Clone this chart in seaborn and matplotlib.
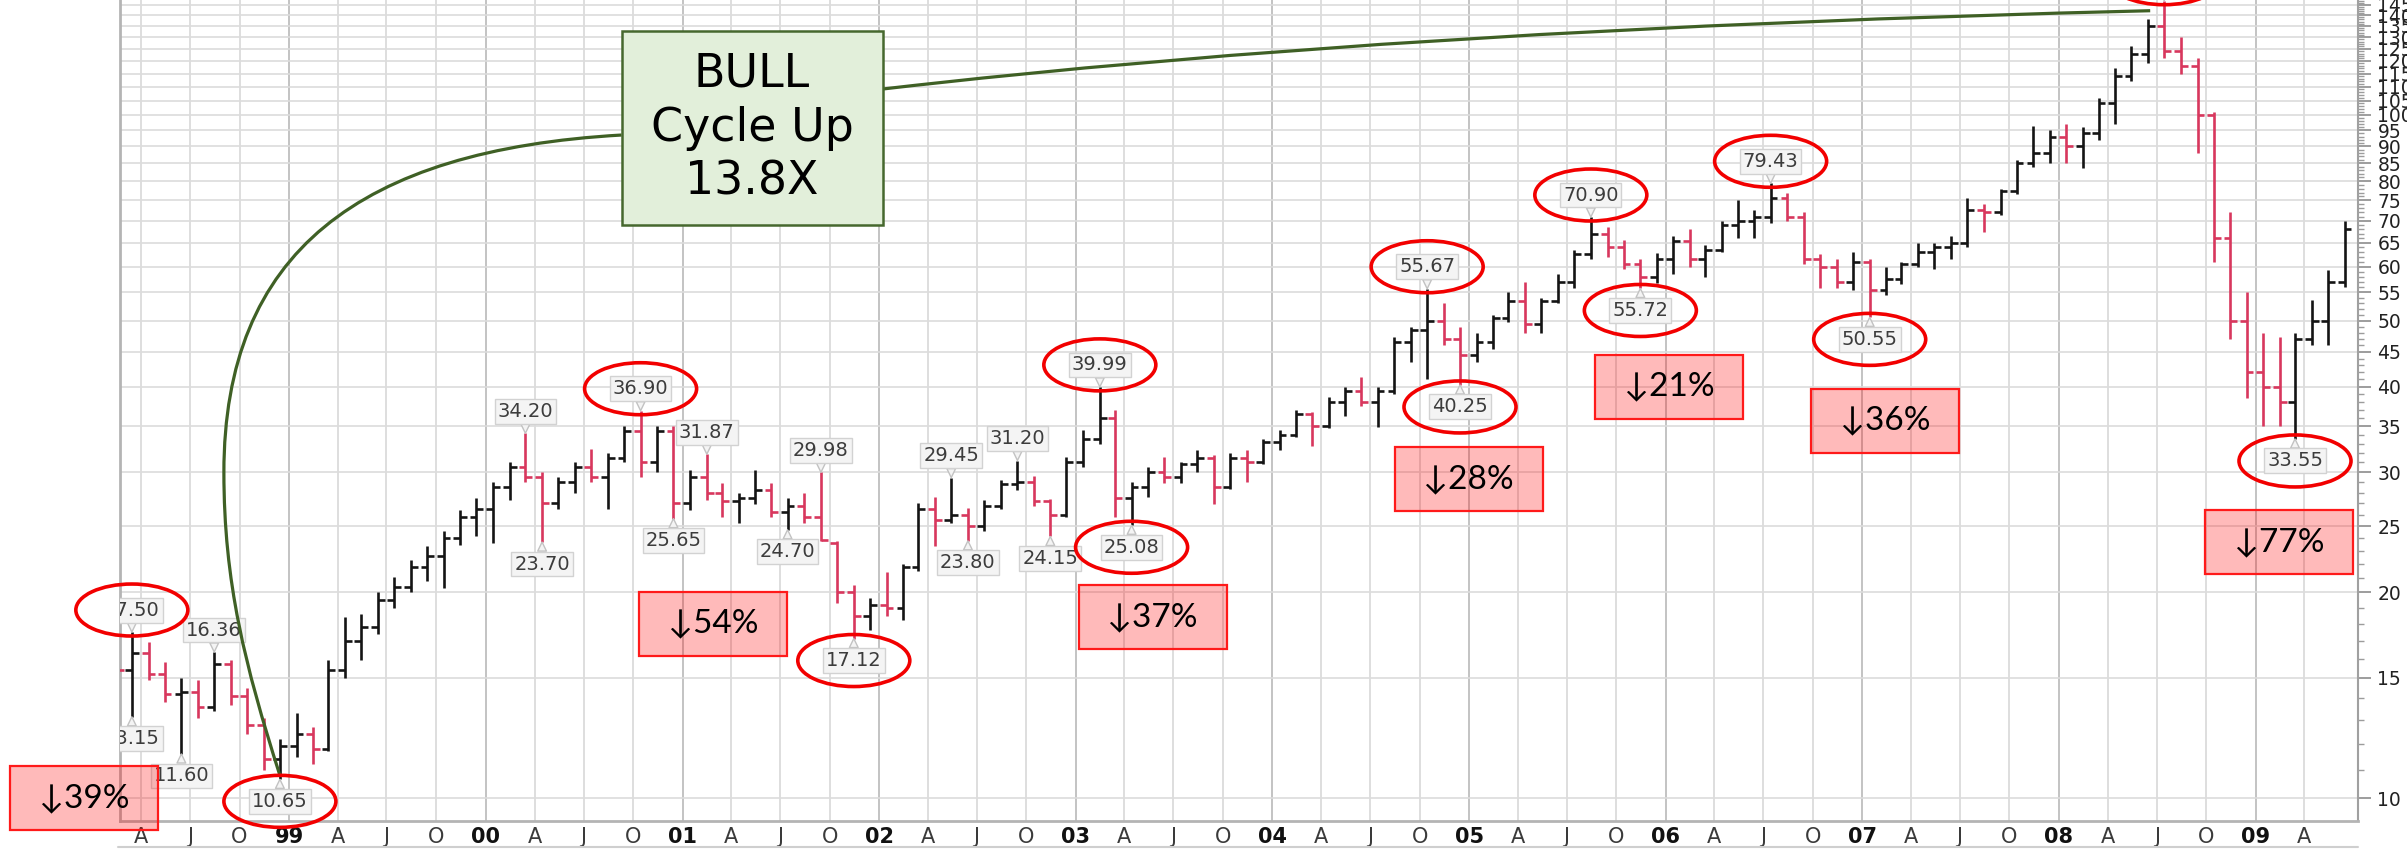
import numpy as np
import pandas as pd
import matplotlib
matplotlib.use("Agg")
import matplotlib.pyplot as plt
import matplotlib.dates as mdates
from matplotlib.patches import Ellipse, Rectangle, PathPatch
from matplotlib.path import Path
from matplotlib.lines import Line2D
from matplotlib.transforms import IdentityTransform
from matplotlib.ticker import FixedLocator, FixedFormatter, NullFormatter
import seaborn as sns

# monthly bars, Feb 1998 .. Jun 2009
first_month = "1998-02-01"

opens = [
    15.9, 15.4, 16.3, 15.2, 14.2, 14.3, 13.6, 15.7, 14.1, 12.8, 11.4,            # 1998
    11.9, 12.4, 11.8, 15.4, 17.0, 17.8, 19.5, 20.4, 21.8, 22.6, 24.0, 25.8,      # 1999
    26.5, 28.5, 30.5, 29.5, 27.0, 29.0, 30.5, 29.5, 31.5, 34.5, 31.0, 34.5,      # 2000
    27.0, 29.5, 28.0, 27.2, 27.5, 28.2, 26.2, 26.8, 25.8, 23.6, 20.0, 18.5,      # 2001
    19.2, 19.0, 21.8, 26.5, 25.5, 26.0, 25.0, 26.8, 28.8, 29.0, 27.2, 26.0,      # 2002
    31.0, 33.5, 36.0, 27.5, 28.5, 30.0, 29.5, 30.8, 31.5, 28.5, 31.5, 31.0,      # 2003
    33.2, 34.0, 36.5, 35.0, 38.0, 39.5, 38.0, 39.5, 46.5, 48.5, 50.0, 47.0,      # 2004
    44.5, 46.5, 50.5, 53.5, 49.5, 53.5, 57.0, 62.5, 67.0, 64.0, 60.5, 58.0,      # 2005
    61.5, 65.5, 61.5, 63.5, 69.0, 70.0, 71.0, 75.5, 71.0, 61.5, 60.0, 57.0,      # 2006
    61.0, 55.5, 57.5, 60.5, 63.0, 64.0, 65.0, 72.5, 72.0, 77.5, 85.0, 88.0,      # 2007
    93.0, 90.0, 94.0, 104.0, 114.0, 123.0, 135.0, 124.0, 118.0, 100.0, 66.0, 50.0,  # 2008
    42.0, 40.0, 38.0, 47.0, 50.0, 57.0,                                          # 2009
]
highs = [
    16.6, 17.50, 16.9, 15.8, 15.0, 14.9, 16.36, 15.9, 14.5, 13.1, 12.2,
    13.3, 12.7, 15.9, 18.4, 18.6, 20.0, 21.1, 22.3, 23.4, 24.6, 26.4, 27.5,
    29.0, 31.0, 34.20, 30.0, 29.5, 31.0, 32.4, 32.0, 35.0, 36.90, 35.0, 35.0,
    30.2, 31.87, 28.9, 28.0, 30.2, 28.9, 27.5, 28.0, 29.98, 23.8, 20.5, 19.6,
    21.4, 22.0, 27.0, 27.6, 29.45, 26.6, 27.3, 29.2, 31.20, 29.6, 27.4, 31.6,
    34.6, 39.99, 37.0, 29.0, 30.5, 31.6, 31.0, 32.3, 31.8, 32.0, 32.3, 33.5,
    34.6, 37.0, 36.8, 38.7, 40.0, 41.4, 40.0, 47.3, 49.0, 55.67, 53.0, 49.0,
    48.0, 51.0, 55.0, 57.0, 54.0, 58.5, 63.5, 70.90, 68.5, 65.6, 61.5, 62.8,
    66.5, 68.0, 64.5, 70.0, 75.0, 72.5, 79.43, 77.0, 72.0, 62.5, 61.5, 63.0,
    61.5, 60.0, 61.0, 65.0, 65.0, 66.5, 75.5, 74.0, 78.0, 86.0, 96.5, 95.0,
    97.0, 96.0, 106.0, 117.0, 126.0, 138.0, 147.0, 130.0, 121.0, 101.0, 72.0, 55.0,
    48.0, 47.3, 48.0, 53.6, 59.4, 70.0,
]
lows = [
    15.0, 13.15, 14.9, 13.8, 11.60, 13.1, 13.4, 13.7, 12.4, 11.0, 10.65,
    11.5, 11.2, 11.7, 15.0, 15.9, 17.4, 19.0, 20.0, 20.8, 20.3, 23.5, 24.2,
    23.6, 27.3, 29.0, 23.70, 26.5, 28.0, 29.0, 26.5, 31.0, 29.5, 30.0, 25.65,
    26.4, 27.3, 25.8, 25.3, 26.9, 25.8, 24.70, 25.3, 23.8, 19.3, 17.12, 17.6,
    18.5, 18.2, 21.5, 23.4, 25.3, 23.80, 24.6, 26.5, 28.2, 26.8, 24.15, 25.8,
    30.5, 33.0, 25.8, 25.08, 27.6, 28.9, 28.9, 30.0, 26.9, 28.3, 29.0, 30.8,
    32.3, 33.8, 32.8, 34.8, 36.2, 37.5, 34.9, 39.0, 43.5, 41.0, 46.0, 40.25,
    43.5, 45.5, 49.8, 48.0, 48.0, 53.0, 55.8, 61.5, 62.0, 59.5, 55.72, 56.8,
    58.5, 60.0, 58.0, 63.0, 66.0, 66.0, 69.5, 70.0, 60.5, 55.9, 55.9, 55.4,
    50.55, 54.5, 56.5, 60.0, 59.5, 61.5, 64.0, 67.5, 71.5, 76.5, 84.0, 85.0,
    85.0, 83.5, 92.0, 97.0, 112.0, 119.0, 121.0, 115.0, 88.0, 61.0, 47.0, 38.5,
    35.0, 35.0, 33.55, 46.0, 46.0, 56.0,
]
closes = [
    15.4, 16.3, 15.2, 14.2, 14.3, 13.6, 15.7, 14.1, 12.8, 11.4, 11.9,
    12.4, 11.8, 15.4, 17.0, 17.8, 19.5, 20.4, 21.8, 22.6, 24.0, 25.8, 26.5,
    28.5, 30.5, 29.5, 27.0, 29.0, 30.5, 29.5, 31.5, 34.5, 31.0, 34.5, 27.0,
    29.5, 28.0, 27.2, 27.5, 28.2, 26.2, 26.8, 25.8, 23.9, 20.0, 18.5, 19.2,
    19.0, 21.8, 26.5, 25.5, 26.0, 25.0, 26.8, 28.8, 29.0, 27.2, 26.0, 31.0,
    33.5, 36.0, 27.5, 28.5, 30.0, 29.5, 30.8, 31.5, 28.5, 31.5, 31.0, 33.2,
    34.0, 36.5, 35.0, 38.0, 39.5, 38.0, 39.5, 46.5, 48.5, 50.0, 47.0, 44.5,
    46.5, 50.5, 53.5, 49.5, 53.5, 57.0, 62.5, 67.0, 64.0, 60.5, 58.0, 61.5,
    65.5, 61.5, 63.5, 69.0, 70.0, 71.0, 75.5, 71.0, 61.5, 60.0, 57.0, 61.0,
    55.5, 57.5, 60.5, 63.0, 64.0, 65.0, 72.5, 72.0, 77.5, 85.0, 88.0, 93.0,
    90.0, 94.0, 104.0, 114.0, 123.0, 135.0, 124.0, 118.0, 100.0, 66.0, 50.0, 42.0,
    40.0, 38.0, 47.0, 50.0, 57.0, 68.0,
]

# swing highs / lows that carry a price tag (month, field, circled in red)
swings = [
    ("1998-03", "high", True), ("1998-03", "low", False), ("1998-06", "low", False),
    ("1998-08", "high", False), ("1998-12", "low", True),
    ("2000-03", "high", False), ("2000-04", "low", False), ("2000-10", "high", True),
    ("2000-12", "low", False), ("2001-02", "high", False), ("2001-07", "low", False),
    ("2001-09", "high", False), ("2001-11", "low", True),
    ("2002-05", "high", False), ("2002-06", "low", False), ("2002-09", "high", False),
    ("2002-11", "low", False), ("2003-02", "high", True), ("2003-04", "low", True),
    ("2004-10", "high", True), ("2004-12", "low", True), ("2005-08", "high", True),
    ("2005-11", "low", True), ("2006-07", "high", True), ("2007-01", "low", True),
    ("2008-07", "high", True), ("2009-03", "low", True),
]

drop_texts = ["↓39%", "↓54%", "↓37%", "↓28%", "↓21%", "↓36%", "↓77%"]
bull_text = "BULL\nCycle Up\n13.8X"

y_ticks = list(range(10, 150, 5))
month_letters = {4: "A", 7: "J", 10: "O"}

# ---------------------------------------------------------------- figure
sns.set_style("white")
plt.rcParams["font.family"] = ["DejaVu Sans"]

fig = plt.figure(figsize=(24.07, 8.5), dpi=100)
ax = fig.add_axes([120 / 2407, 29 / 850, 2238 / 2407, 821 / 850])

bars = pd.DataFrame({
    "date": pd.date_range(first_month, periods=len(closes), freq="MS") + pd.Timedelta(days=14),
    "open": opens, "high": highs, "low": lows, "close": closes,
})
bars["x"] = mdates.date2num(bars["date"])
bars["move"] = np.where(bars["close"] >= bars["open"], "up", "down")
colors = {"up": "#141414", "down": "#d8375d"}

ax.vlines(bars["x"], bars["low"], bars["high"], colors=list(bars["move"].map(colors)),
          lw=1.9, zorder=3)
sns.scatterplot(data=bars, x="x", y="open", hue="move", palette=colors, marker=0, s=24,
                linewidth=1.9, legend=False, ax=ax, zorder=3)
sns.scatterplot(data=bars, x="x", y="close", hue="move", palette=colors, marker=1, s=24,
                linewidth=1.9, legend=False, ax=ax, zorder=3)

ax.set_yscale("log")
ax.set_ylim(9.255, 147.35)
ax.set_xlim(mdates.date2num(pd.Timestamp("1998-02-21")), mdates.date2num(pd.Timestamp("2009-07-10")))
ax.set_xlabel("")
ax.set_ylabel("")

# right hand price axis
ax.yaxis.tick_right()
ax.yaxis.set_major_locator(FixedLocator(y_ticks))
ax.yaxis.set_major_formatter(FixedFormatter([str(v) for v in y_ticks]))
ax.yaxis.set_minor_locator(FixedLocator([v for v in range(10, 148) if v % 5]))
ax.yaxis.set_minor_formatter(NullFormatter())
ax.tick_params(axis="y", which="major", right=True, left=False, length=9, width=1.2,
               color="#8c8c8c", pad=5, labelsize=13.5, labelcolor="#222222")
ax.tick_params(axis="y", which="minor", right=True, left=False, length=4, width=1,
               color="#9c9c9c")

# quarterly date axis
quarters = pd.date_range("1998-04-01", "2009-04-01", freq="QS")
q_labels = [f"{d.year % 100:02d}" if d.month == 1 else month_letters[d.month] for d in quarters]
ax.set_xticks(mdates.date2num(quarters))
ax.set_xticklabels(q_labels)
ax.tick_params(axis="x", length=0, pad=4, labelsize=15, labelcolor="#3a3a3a")
for lab, d in zip(ax.get_xticklabels(), quarters):
    if d.month == 1:
        lab.set_fontweight("bold")
        lab.set_color("#111111")

ax.grid(axis="y", which="major", color="#dcdcdc", lw=1.2)
ax.grid(axis="x", which="major", color="#d8d8d8", lw=1.2)
for tick, d in zip(ax.xaxis.get_major_ticks(), quarters):
    if d.month == 1:
        tick.gridline.set_color("#b9b9b9")
ax.set_axisbelow(True)

for side in ["left", "bottom"]:
    ax.spines[side].set_color("#b4b4b4")
    ax.spines[side].set_linewidth(2)
ax.spines["right"].set_color("#a0a0a0")
ax.spines["right"].set_linewidth(1.5)
ax.spines["top"].set_visible(False)

fig.add_artist(Line2D([118, 2358], [3, 3], transform=IdentityTransform(), color="#cfcfcf", lw=1.5))


def to_px(x, price):
    return ax.transData.transform((x, price))


# price tags + red circles
for month, field, circled in swings:
    row = bars.loc[bars["date"].dt.strftime("%Y-%m") == month].iloc[0]
    price = row[field]
    side = 1 if field == "high" else -1
    ann = ax.annotate(f"{price:.2f}", xy=(row["x"], price), xytext=(0, side * 15.8),
                      textcoords="offset points", ha="center", va="center",
                      fontsize=14, color="#3c3c3c", zorder=5,
                      bbox=dict(boxstyle="square,pad=0.15", fc="#f4f4f4", ec="#d2d2d2", lw=1),
                      arrowprops=dict(arrowstyle="wedge,tail_width=0.45", fc="#f4f4f4",
                                      ec="#c2c2c2", lw=1, shrinkA=0, shrinkB=0))
    ann.set_clip_path(ax.patch)
    if circled:
        px, py = to_px(row["x"], price)
        fig.add_artist(Ellipse((px, py + side * 22), 112, 52, transform=IdentityTransform(),
                               fill=False, ec="#f20000", lw=2.6, zorder=8))

# drawdown boxes
drop_x = mdates.date2num(pd.to_datetime(["1997-12-17", "2001-02-27", "2003-05-24", "2004-12-31",
                                         "2006-01-08", "2007-02-13", "2009-02-14"]))
drop_y = [10.0, 18.0, 18.4, 29.3, 40.0, 35.7, 23.7]
for x, y, s in zip(drop_x, drop_y, drop_texts):
    cx, cy = to_px(x, y)
    fig.add_artist(Rectangle((cx - 74, cy - 32), 148, 64, transform=IdentityTransform(),
                             fc=(1, 0, 0, 0.27), ec="#ff1a1a", lw=1.6, zorder=6))
    fig.text(cx, cy, s, transform=IdentityTransform(), ha="center", va="center",
             fontsize=24, color="black", family=["Lato", "DejaVu Sans"], zorder=7)

# bull cycle call-out with its connector
bx, by = to_px(mdates.date2num(pd.Timestamp("2001-05-10")), 95.7)
bw, bh = 261, 194
low_row = bars.loc[bars["low"].idxmin()]
top_row = bars.loc[bars["high"].idxmax()]
sx, sy = to_px(low_row["x"], low_row["low"])
sy += 4
ex, ey = to_px(top_row["x"], top_row["high"])
ex, ey = ex - 14, ey - 10

b_left = (bx - bw / 2, by - 7)
mx, my = sx - 56, sy + 303
left_curve = Path([(sx, sy), (sx - 35, sy + 110), (mx, sy + 193), (mx, my),
                   (mx, my + 220), (b_left[0] - 262, b_left[1] - 15), b_left],
                  [Path.MOVETO, Path.CURVE4, Path.CURVE4, Path.CURVE4,
                   Path.CURVE4, Path.CURVE4, Path.CURVE4])
b_right = (bx + bw / 2, by + 39)
ctrl = (b_right[0] + 0.41 * (ex - b_right[0]), b_right[1] + 0.77 * (ey - b_right[1]))
right_curve = Path([b_right, ctrl, (ex, ey)], [Path.MOVETO, Path.CURVE3, Path.CURVE3])
for p in (left_curve, right_curve):
    fig.add_artist(PathPatch(p, transform=IdentityTransform(), fc="none", ec="#3f6025",
                             lw=2.3, zorder=5.5))

fig.add_artist(Rectangle((bx - bw / 2, by - bh / 2), bw, bh, transform=IdentityTransform(),
                         fc="#e2efda", ec="#46682e", lw=1.8, zorder=6))
fig.text(bx, by, bull_text, transform=IdentityTransform(), ha="center", va="center",
         multialignment="center", fontsize=33, linespacing=1.25, color="black", zorder=7)

fig.savefig("out.png", dpi=100, facecolor="white")
